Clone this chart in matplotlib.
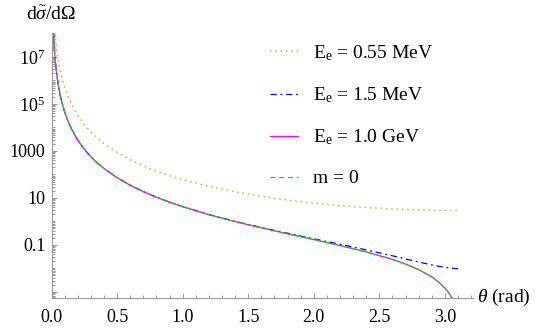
import matplotlib
matplotlib.use('Agg')
import matplotlib.pyplot as plt
from matplotlib.ticker import FixedLocator, MultipleLocator, FormatStrFormatter, NullFormatter

plt.rcParams['font.family'] = 'Liberation Serif'
plt.rcParams['mathtext.fontset'] = 'custom'
plt.rcParams['mathtext.rm'] = 'Liberation Serif'
plt.rcParams['mathtext.it'] = 'Liberation Serif:italic'

# scattering angle (rad)
theta = [0.014, 0.017, 0.02, 0.025, 0.03, 0.04, 0.05, 0.06, 0.07, 0.08, 0.1, 0.12,
         0.15, 0.2, 0.25, 0.3, 0.35, 0.4, 0.5, 0.6, 0.7, 0.8, 0.9, 1.0, 1.2, 1.4,
         1.6, 1.8, 2.0, 2.2, 2.4, 2.6, 2.7, 2.8, 2.9, 2.95, 3.0, 3.02, 3.05, 3.07, 3.1]

xs_055mev = [1.36e9, 6.25e8, 3.26e8, 1.34e8, 6.44e7, 2.04e7, 8.35e6, 4.02e6, 2.17e6, 1.27e6,
             5.22e5, 2.52e5, 1.03e5, 3.28e4, 1.35e4, 6520, 3540, 2080, 865, 423, 233, 139,
             89.2, 60.2, 31.0, 18.1, 11.6, 8.07, 6.00, 4.72, 3.91, 3.40, 3.22, 3.09, 2.99,
             2.96, 2.93, 2.92, 2.91, 2.91, 2.90]

xs_15mev = [1.21e8, 5.56e7, 2.9e7, 1.19e7, 5.73e6, 1.81e6, 7.42e5, 3.58e5, 1.93e5, 1.13e5,
            4.64e4, 2.24e4, 9160, 2891, 1182, 569, 306, 179, 72.9, 34.8, 18.6, 10.8, 6.62,
            4.27, 1.97, 1.01, 0.550, 0.313, 0.182, 0.107, 0.0615, 0.0344, 0.0254, 0.0187,
            0.0141, 0.0124, 0.0111, 0.0107, 0.0102, 0.00995, 0.0097]

xs_1gev = [1.21e8, 5.56e7, 2.9e7, 1.19e7, 5.73e6, 1.81e6, 7.42e5, 3.58e5, 1.93e5, 1.13e5,
           4.64e4, 2.24e4, 9150, 2890, 1182, 569, 306, 179, 72.7, 34.7, 18.5, 10.7, 6.57,
           4.23, 1.94, 0.985, 0.532, 0.298, 0.169, 0.0946, 0.0505, 0.0241, 0.0154, 0.00888,
           0.00434, 0.00271, 0.00147, 0.00108, 6.1e-4, 3.7e-4, 1.25e-4]

xs_m0 = [1.21e8, 5.56e7, 2.9e7, 1.19e7, 5.73e6, 1.81e6, 7.42e5, 3.58e5, 1.93e5, 1.13e5,
         4.64e4, 2.24e4, 9150, 2890, 1182, 569, 306, 179, 72.7, 34.7, 18.5, 10.7, 6.57,
         4.23, 1.94, 0.985, 0.532, 0.298, 0.169, 0.0946, 0.0505, 0.0241, 0.0154, 0.00888,
         0.00434, 0.00271, 0.00147, 0.00108, 6.1e-4, 3.7e-4, 1.25e-4]

labels = [r'E$_\mathregular{e}$ = 0.55 MeV', r'E$_\mathregular{e}$ = 1.5 MeV',
          r'E$_\mathregular{e}$ = 1.0 GeV', 'm = 0']

ytick_vals = [1e-3, 1e-1, 1e1, 1e3, 1e5, 1e7]
ytick_labels = ['', '0.1', '10', '1000', r'$\mathregular{10^5}$', r'$\mathregular{10^7}$']

fig = plt.figure(figsize=(5.4, 3.3), dpi=100)
ax = fig.add_axes([0.0954, 0.097, 0.7806, 0.803])

ax.plot(theta, xs_055mev, color='#ff9a33', lw=1.1, ls=(0, (1, 2.5)), label=labels[0])
ax.plot(theta, xs_15mev, color='#0000ff', lw=0.9, ls=(0, (5, 3, 1.5, 3)), label=labels[1])
ax.plot(theta, xs_1gev, color='#ff00ff', lw=0.9, ls='-', label=labels[2])
ax.plot(theta, xs_m0, color='#00e000', lw=0.9, ls=(0, (4, 3)), label=labels[3])

ax.set_yscale('log')
ax.set_xlim(0, 3.215)
ax.set_ylim(5.5e-4, 1.05e8)

for s in ['top', 'right']:
    ax.spines[s].set_visible(False)
for s in ['left', 'bottom']:
    ax.spines[s].set_color('#999999')
    ax.spines[s].set_linewidth(0.8)

ax.xaxis.set_major_locator(MultipleLocator(0.5))
ax.xaxis.set_minor_locator(MultipleLocator(0.1))
ax.xaxis.set_major_formatter(FormatStrFormatter('%.1f'))

minor_y = [m * 10.0 ** k for k in range(-4, 8) for m in range(1, 10)
           if not (m == 1 and k % 2 == 1)]
ax.yaxis.set_major_locator(FixedLocator(ytick_vals))
ax.yaxis.set_major_formatter(plt.FixedFormatter(ytick_labels))
ax.yaxis.set_minor_locator(FixedLocator(minor_y))
ax.yaxis.set_minor_formatter(NullFormatter())

ax.tick_params(which='both', direction='in', color='#999999', labelcolor='black',
               labelsize=13, width=0.7)
ax.tick_params(which='major', length=3.5)
ax.tick_params(which='minor', length=2)
ax.tick_params(axis='x', which='major', pad=8)
ax.tick_params(axis='y', which='major', pad=4.5)

ax.legend(frameon=False, loc='upper left', bbox_to_anchor=(0.518, 0.962),
          borderpad=0, borderaxespad=0, handlelength=1.44, handletextpad=0.77,
          labelspacing=1.16, fontsize=14)

fig.text(51.5 / 540, 1 - 15 / 330, r'$\mathrm{d}\tilde{\sigma}/\mathrm{d}\Omega$',
         ha='center', va='center', fontsize=14)
fig.text(477 / 540, 1 - 297 / 330, r'$\theta$ (rad)', ha='left', va='center', fontsize=14)

fig.savefig('out.png', dpi=100)
